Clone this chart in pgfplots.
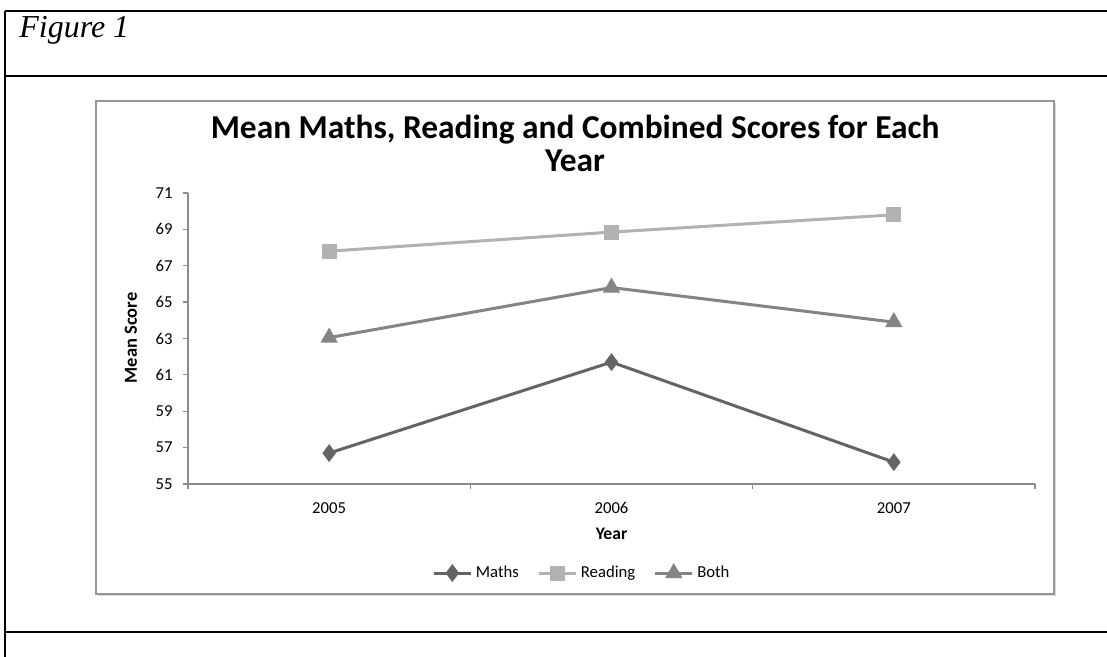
\documentclass[border=0pt]{standalone}
\usepackage{pgfplots}
\pgfplotsset{compat=1.18}
\usepackage{fontspec}
\setmainfont{Carlito}
\newfontfamily\timesfont{Liberation Serif}

\definecolor{mathsgray}{RGB}{100,100,100}
\definecolor{readgray}{RGB}{178,178,178}
\definecolor{bothgray}{RGB}{132,132,132}
\definecolor{axisgray}{RGB}{140,140,140}
\definecolor{framegray}{RGB}{150,150,150}

\begin{document}
\begin{tikzpicture}
\path[fill=white,use as bounding box] (0,0) rectangle (221.4mm,131.4mm);
% page frame, in pixel units of the reference (y down)
\begin{scope}[x=0.2mm,y=-0.2mm,shift={(0,131.4mm)}]
  \fill[black!15] (98,103) rectangle (1056.5,596.5);
  \draw[framegray,fill=white,line width=0.3mm] (96,101) rectangle (1054,594);
  \draw[line width=0.45mm] (5,11) -- (1107,11);
  \draw[line width=0.45mm] (5,76) -- (1107,76);
  \draw[line width=0.45mm] (5,632) -- (1107,632);
  \draw[line width=0.45mm] (5,11) -- (5,657);
  \node[anchor=base west,font=\timesfont\itshape\fontsize{18.2}{20}\selectfont,inner sep=0pt] at (19,38) {Figure 1};
\end{scope}

\begin{axis}[
    at={(37.6mm,34.6mm)}, anchor=south west,
    scale only axis,
    width=169.4mm, height=58.2mm,
    xmin=0.5, xmax=3.5,
    ymin=55, ymax=71,
    xtick={0.5,1.5,2.5,3.5},
    xticklabels={},
    extra x ticks={1,2,3},
    extra x tick labels={2005,2006,2007},
    extra x tick style={major tick length=0pt},
    ytick={55,57,59,61,63,65,67,69,71},
    axis x line*=bottom, axis y line*=left,
    axis line style={axisgray, line width=0.25mm, -},
    every tick/.style={axisgray, line width=0.25mm},
    tick align=outside, major tick length=1mm,
    /pgf/number format/assume math mode=true,
    tick label style={font=\fontsize{9.5}{10}\selectfont},
    xticklabel style={yshift=-2.2mm},
    yticklabel style={xshift=-0.6mm},
    title={Mean Maths, Reading and Combined Scores for Each\\Year},
    title style={at={(axis description cs:0.457,1.135)}, anchor=center, align=center,
        font=\bfseries\fontsize{19}{18.5}\selectfont},
    xlabel={Year},
    xlabel style={at={(axis description cs:0.5,-0.172)}, anchor=center,
        font=\bfseries\fontsize{10}{11}\selectfont},
    ylabel={Mean Score},
    ylabel style={at={(axis description cs:-0.0673,0.502)}, anchor=center, rotate=0,
        font=\bfseries\fontsize{10.5}{11}\selectfont},
    legend style={at={(axis description cs:0.466,-0.306)}, anchor=center, draw=none,
        legend columns=3, font=\fontsize{9.5}{10}\selectfont,
        /tikz/every even column/.append style={column sep=3mm}},
    legend image code/.code={\draw[mark repeat=2,mark phase=2] plot coordinates {(0mm,0mm) (3.7mm,0mm) (7.4mm,0mm)};},
    line width=0.6mm,
]
\addplot[color=mathsgray, mark=diamond*, mark size=1.3mm, mark options={solid}] coordinates {
    (1,56.7) (2,61.7) (3,56.2)
};
\addlegendentry{Maths}
\addplot[color=readgray, mark=square*, mark size=1.2mm, mark options={solid}] coordinates {
    (1,67.8) (2,68.85) (3,69.8)
};
\addlegendentry{Reading}
\addplot[color=bothgray, mark=triangle*, mark size=1.4mm, mark options={solid}] coordinates {
    (1,63.05) (2,65.8) (3,63.9)
};
\addlegendentry{Both}
\end{axis}
\end{tikzpicture}
\end{document}
